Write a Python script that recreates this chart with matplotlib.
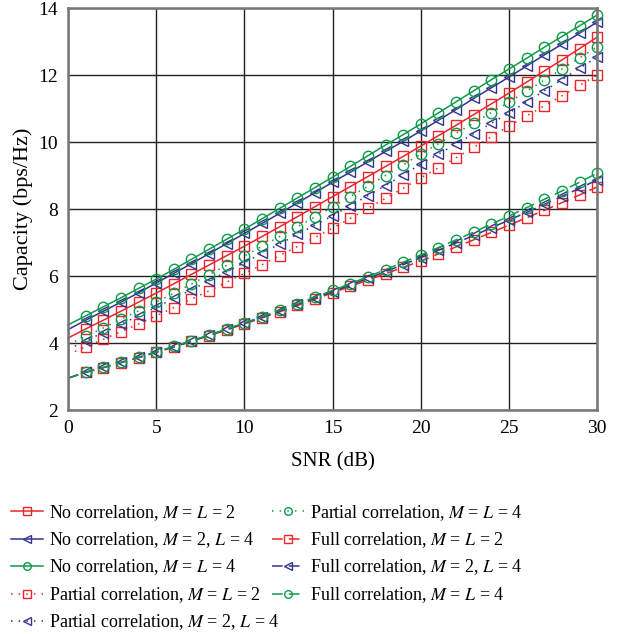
import numpy as np
import matplotlib.pyplot as plt
from matplotlib.lines import Line2D

plt.rcParams['font.family'] = ['Liberation Serif', 'DejaVu Serif']
plt.rcParams['mathtext.fontset'] = 'stix'

snr = list(range(0, 31))

# no correlation
nc_22 = [4.15, 4.42, 4.68, 4.95, 5.22, 5.49, 5.77, 6.05, 6.33, 6.61, 6.89, 7.18, 7.47, 7.77, 8.07, 8.37,
         8.67, 8.97, 9.27, 9.57, 9.88, 10.19, 10.5, 10.82, 11.14, 11.46, 11.79, 12.12, 12.45, 12.79, 13.13]
nc_24 = [4.4, 4.68, 4.95, 5.22, 5.5, 5.79, 6.08, 6.37, 6.67, 6.97, 7.27, 7.57, 7.87, 8.18, 8.49, 8.8,
         9.1, 9.41, 9.72, 10.02, 10.33, 10.65, 10.97, 11.3, 11.62, 11.94, 12.27, 12.6, 12.92, 13.25, 13.58]
nc_44 = [4.54, 4.81, 5.08, 5.35, 5.63, 5.91, 6.2, 6.5, 6.8, 7.1, 7.4, 7.71, 8.02, 8.33, 8.64, 8.95,
         9.27, 9.59, 9.91, 10.22, 10.54, 10.87, 11.2, 11.53, 11.86, 12.18, 12.5, 12.83, 13.15, 13.47, 13.79]
# partial correlation
pc_22 = [3.65, 3.89, 4.11, 4.34, 4.57, 4.81, 5.06, 5.31, 5.56, 5.82, 6.08, 6.34, 6.61, 6.88, 7.15, 7.43,
         7.72, 8.02, 8.32, 8.62, 8.93, 9.23, 9.53, 9.84, 10.16, 10.48, 10.78, 11.08, 11.38, 11.69, 12.0]
pc_24 = [3.8, 4.07, 4.31, 4.56, 4.81, 5.07, 5.33, 5.59, 5.86, 6.13, 6.4, 6.68, 6.96, 7.24, 7.52, 7.8,
         8.1, 8.4, 8.7, 9.02, 9.34, 9.64, 9.94, 10.25, 10.56, 10.87, 11.2, 11.53, 11.86, 12.2, 12.54]
pc_44 = [3.95, 4.2, 4.45, 4.71, 4.96, 5.22, 5.49, 5.76, 6.04, 6.32, 6.6, 6.89, 7.18, 7.47, 7.76, 8.06,
         8.37, 8.68, 9.0, 9.32, 9.64, 9.95, 10.26, 10.57, 10.88, 11.19, 11.52, 11.85, 12.18, 12.51, 12.84]
# full correlation
fc_22 = [2.95, 3.12, 3.26, 3.41, 3.56, 3.72, 3.88, 4.05, 4.22, 4.39, 4.57, 4.75, 4.93, 5.12, 5.31, 5.5,
         5.69, 5.88, 6.07, 6.26, 6.45, 6.66, 6.87, 7.08, 7.3, 7.52, 7.74, 7.96, 8.19, 8.42, 8.66]
fc_24 = [2.95, 3.13, 3.27, 3.42, 3.57, 3.73, 3.89, 4.06, 4.23, 4.41, 4.59, 4.77, 4.96, 5.15, 5.34, 5.53,
         5.73, 5.93, 6.13, 6.34, 6.55, 6.77, 6.99, 7.21, 7.44, 7.67, 7.9, 8.14, 8.38, 8.62, 8.87]
fc_44 = [2.95, 3.13, 3.27, 3.42, 3.57, 3.73, 3.9, 4.07, 4.24, 4.42, 4.6, 4.79, 4.98, 5.17, 5.37, 5.57,
         5.77, 5.98, 6.19, 6.41, 6.63, 6.85, 7.08, 7.31, 7.55, 7.79, 8.04, 8.29, 8.54, 8.8, 9.07]

red = '#e8262b'
blue = '#33348f'
green = '#0e9a48'
dot = (0, (1, 4))
dash = (0, (7, 4))

series = [
    (nc_22, red, 's', '-', r'No correlation, $M$ = $L$ = 2'),
    (nc_24, blue, '<', '-', r'No correlation, $M$ = 2, $L$ = 4'),
    (nc_44, green, 'o', '-', r'No correlation, $M$ = $L$ = 4'),
    (pc_22, red, 's', dot, r'Partial correlation, $M$ = $L$ = 2'),
    (pc_24, blue, '<', dot, r'Partial correlation, $M$ = 2, $L$ = 4'),
    (pc_44, green, 'o', dot, r'Partial correlation, $M$ = $L$ = 4'),
    (fc_22, red, 's', dash, r'Full correlation, $M$ = $L$ = 2'),
    (fc_24, blue, '<', dash, r'Full correlation, $M$ = 2, $L$ = 4'),
    (fc_44, green, 'o', dash, r'Full correlation, $M$ = $L$ = 4'),
]

fig = plt.figure(figsize=(6.24, 6.34), dpi=100)
ax = fig.add_axes([0.109, 0.3533, 0.848, 0.634])

handles = []
for vals, c, m, ls, lab in series:
    ax.plot(snr, vals, color=c, linestyle=ls, lw=1.1, marker=m, markersize=7.5,
            markerfacecolor='none', markeredgecolor=c, markeredgewidth=1.0,
            markevery=slice(1, None), clip_on=False)
    handles.append(Line2D([], [], color=c, linestyle=ls, lw=1.1, marker=m, markersize=5.5,
                          markerfacecolor='none', markeredgecolor=c, markeredgewidth=1.0, label=lab))

ax.set_xlim(0, 30)
ax.set_ylim(2, 14)
ax.set_xticks([0, 5, 10, 15, 20, 25, 30])
ax.set_yticks([2, 4, 6, 8, 10, 12, 14])
ax.grid(True, color='#222222', lw=1.0)
ax.set_axisbelow(True)
for s in ax.spines.values():
    s.set_color('#777777')
    s.set_linewidth(1.8)
ax.tick_params(direction='in', length=3, color='#333333', labelsize=14, pad=7)
ax.set_xlabel('SNR (dB)', fontsize=15, labelpad=11)
ax.set_ylabel('Capacity (bps/Hz)', fontsize=16, labelpad=4)

leg_kw = dict(frameon=False, fontsize=13, handlelength=1.75, handletextpad=0.35,
              labelspacing=0.42, borderpad=0, borderaxespad=0)
fig.legend(handles=handles[:5], loc='upper left', bbox_to_anchor=(0.018, 0.207), **leg_kw)
fig.legend(handles=handles[5:], loc='upper left', bbox_to_anchor=(0.436, 0.207), **leg_kw)

fig.savefig('out.png', dpi=100)
